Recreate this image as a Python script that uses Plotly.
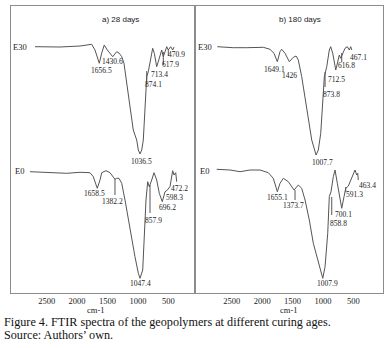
import plotly.graph_objects as go

# ---------------- data (wavenumber cm-1, offset transmittance a.u.) ----------------
# a) 28 days
a_e30_wn = [2692, 2281, 1952, 1816, 1760, 1706, 1635, 1595, 1553, 1503, 1414, 1349, 1306, 1266, 1229,
            1184, 1130, 1076, 1020, 993, 965, 937, 911, 883, 855, 829, 789, 757, 730, 691, 648, 609,
            582, 554, 526, 500, 461, 428, 406]
a_e30_t = [246.3, 246, 247, 248, 248.7, 243, 229.7, 240, 248, 243, 236.3, 241.3, 239.7, 236.3, 229.7,
           210, 186, 163, 153, 143, 139, 143, 153, 193, 216.3, 221.3, 236.3, 244.7, 239.7, 226.3, 234.7,
           243, 236.3, 241.3, 246.3, 243, 246.3, 243, 246]
a_e0_wn = [2775, 2556, 2391, 2171, 1952, 1788, 1734, 1668, 1623, 1595, 1525, 1459, 1377, 1349, 1311,
           1266, 1212, 1130, 1048, 993, 965, 921, 895, 867, 839, 813, 773, 735, 691, 648, 599, 554,
           526, 472, 428, 406, 378, 362]
a_e0_t = [121.3, 120.7, 119.7, 119.7, 120.7, 120.3, 116.3, 104.7, 113, 120.3, 122.3, 120.3, 113.7,
          114.7, 114.7, 109.7, 93, 63, 36.3, 19.7, 14.7, 23, 59.7, 93, 111.3, 106.3, 113, 120.3, 113,
          99.7, 91.3, 101.3, 102.3, 106.3, 122.3, 118, 120.3, 111.3]

# b) 180 days
b_e30_wn = [2737, 2638, 2474, 2253, 1980, 1870, 1804, 1750, 1706, 1678, 1623, 1553, 1487, 1442, 1405,
            1349, 1294, 1240, 1184, 1113, 1076, 1036, 1003, 977, 937, 895, 872, 839, 789, 757, 730,
            707, 674, 637, 599, 566, 543, 526]
b_e30_t = [246.3, 245.7, 245.3, 245.3, 245.7, 243.7, 239.7, 231.3, 241.3, 243.7, 239.7, 231.3, 235.7,
           237, 233, 216.3, 196.3, 173, 153, 138, 143, 159.7, 193, 216.3, 226.3, 243, 246.3, 239.7,
           223, 231.3, 238, 234.7, 239.7, 244.7, 246.3, 243, 246.3, 243]
b_e0_wn = [2747, 2528, 2363, 2199, 2035, 1898, 1816, 1750, 1706, 1651, 1569, 1475, 1405, 1349, 1294,
           1224, 1158, 1076, 1003, 965, 921, 895, 867, 829, 801, 763, 719, 691, 653, 625, 582, 526,
           472, 444, 428, 418]
b_e0_t = [123.7, 123, 121.3, 123, 123, 120.3, 114.7, 101.3, 109.7, 114.7, 111.3, 103, 108, 104.7, 93,
          73, 49.7, 29.7, 14.7, 26.3, 59.7, 96.3, 101.3, 116.3, 123, 109.7, 93, 84.7, 96.3, 104.7,
          107, 114.7, 123, 118, 119.7, 113]

series_names = ["E30", "E0"]
panel_titles = ["a) 28 days", "b) 180 days"]
tick_values = [2500, 2000, 1500, 1000, 500]
tick_labels = ["2500", "2000", "1500", "1000", "500"]

a_peak_labels = ["1656.5", "1430.6", "1036.5", "874.1", "713.4", "617.9", "470.9",
                 "1658.5", "1382.2", "1047.4", "857.9", "696.2", "598.3", "472.2"]
b_peak_labels = ["1649.1", "1426", "1007.7", "873.8", "712.5", "616.8", "467.1",
                 "1655.1", "1373.7", "1007.9", "858.8", "700.1", "591.3", "463.4"]

# ---------------- placement (label anchors in data coords) ----------------
a_label_pos = [(1595, 223), (1426, 231.3), (938, 131.3), (743, 208.7), (637, 219), (467, 229),
               (362, 238.5), (1714, 99.7), (1426, 91.3), (965, 9.7), (743, 72.3), (513, 85.7),
               (403, 95.8), (321, 104.5)]
b_label_pos = [(1796, 223.7), (1553, 218), (1003, 130.3), (854, 198.7), (773, 213.7), (609, 227.3),
               (423, 235.7), (1742, 95.7), (1480, 88), (929, 9.7), (747, 69.7), (665, 79),
               (485, 98.7), (267, 107.3)]
a_leaders = [(855, 222, 212), (582, 241, 228), (500, 243, 237), (1377, 114, 98), (801, 108, 80)]
b_leaders = [(965, 221, 206), (691, 240, 231), (1459, 103, 93), (855, 96, 78), (625, 106, 101)]

W, H = 385, 348
LINE = "#555555"
BORDER = "#8c8c8c"
TXT = "#222222"
SERIF = "Liberation Serif, Times New Roman, serif"
SANS = "Liberation Sans, Arial, sans-serif"

fig = go.Figure()
fig.add_trace(go.Scatter(x=a_e30_wn, y=a_e30_t, mode="lines", line=dict(color=LINE, width=1),
                         name="E30", xaxis="x", yaxis="y", showlegend=False))
fig.add_trace(go.Scatter(x=a_e0_wn, y=a_e0_t, mode="lines", line=dict(color=LINE, width=1),
                         name="E0", xaxis="x", yaxis="y", showlegend=False))
fig.add_trace(go.Scatter(x=b_e30_wn, y=b_e30_t, mode="lines", line=dict(color=LINE, width=1),
                         name="E30", xaxis="x2", yaxis="y2", showlegend=False))
fig.add_trace(go.Scatter(x=b_e0_wn, y=b_e0_t, mode="lines", line=dict(color=LINE, width=1),
                         name="E0", xaxis="x2", yaxis="y2", showlegend=False))

ydom = [(H - 293) / H, (H - 6) / H]
xa = dict(range=[3087, 61], domain=[11 / W, 195 / W])
xb = dict(range=[3104, 12], domain=[195 / W, 383 / W])
common_x = dict(tickmode="array", tickvals=tick_values, ticktext=tick_labels, showgrid=False,
                zeroline=False, showline=True, linecolor=BORDER, linewidth=1, mirror=True,
                ticks="", tickfont=dict(family=SERIF, size=8.5, color=TXT))
common_y = dict(range=[0, 287], domain=ydom, showgrid=False, zeroline=False, showline=True,
                linecolor=BORDER, linewidth=1, mirror=True, showticklabels=False, ticks="")

fig.update_layout(
    width=W, height=H, margin=dict(l=0, r=0, t=0, b=0),
    paper_bgcolor="white", plot_bgcolor="white", showlegend=False,
    xaxis=dict(**common_x, **xa, anchor="y"),
    xaxis2=dict(**common_x, **xb, anchor="y2"),
    yaxis=dict(**common_y, anchor="x"),
    yaxis2=dict(**common_y, anchor="x2"),
)

ann = []
shapes = []
for xr, yr, labels, pos, leaders, title, tx in [
    ("x", "y", a_peak_labels, a_label_pos, a_leaders, panel_titles[0], 1294),
    ("x2", "y2", b_peak_labels, b_label_pos, b_leaders, panel_titles[1], 1377),
]:
    for t, (px, py) in zip(labels, pos):
        ann.append(dict(x=px, y=py, xref=xr, yref=yr, text=t, showarrow=False,
                        font=dict(family=SERIF, size=7.5, color=TXT), xanchor="center", yanchor="middle"))
    for (lx, y0, y1) in leaders:
        shapes.append(dict(type="line", xref=xr, yref=yr, x0=lx, x1=lx, y0=y0, y1=y1,
                           line=dict(color=LINE, width=1)))
    ann.append(dict(x=tx, y=274, xref=xr, yref=yr, text=title, showarrow=False,
                    font=dict(family=SANS, size=8, color=TXT), xanchor="center", yanchor="middle"))
    ann.append(dict(x=2940, y=246.3, xref=xr, yref=yr, text=series_names[0], showarrow=False,
                    font=dict(family=SERIF, size=8.5, color=TXT), xanchor="center", yanchor="middle"))
    ann.append(dict(x=2940, y=122, xref=xr, yref=yr, text=series_names[1], showarrow=False,
                    font=dict(family=SERIF, size=8.5, color=TXT), xanchor="center", yanchor="middle"))

# axis unit labels and caption
for cx in (95 / W, 288 / W):
    ann.append(dict(x=cx, y=(H - 310) / H, xref="paper", yref="paper", text="cm-1", showarrow=False,
                    font=dict(family=SERIF, size=8.5, color=TXT), xanchor="center", yanchor="middle"))
ann.append(dict(x=3 / W, y=(H - 321.5) / H, xref="paper", yref="paper",
                text="Figure 4. FTIR spectra of the geopolymers at different curing ages.",
                showarrow=False, font=dict(family=SERIF, size=12.2, color="#111111"),
                xanchor="left", yanchor="middle", borderpad=0))
ann.append(dict(x=3 / W, y=(H - 335) / H, xref="paper", yref="paper",
                text="Source: Authors’ own.",
                showarrow=False, font=dict(family=SERIF, size=12.2, color="#111111"),
                xanchor="left", yanchor="middle", borderpad=0))

fig.update_layout(annotations=ann, shapes=shapes)
fig.write_html("out.html", config={"displayModeBar": False},
               post_script="document.body.style.margin='0';document.body.style.padding='0';")
